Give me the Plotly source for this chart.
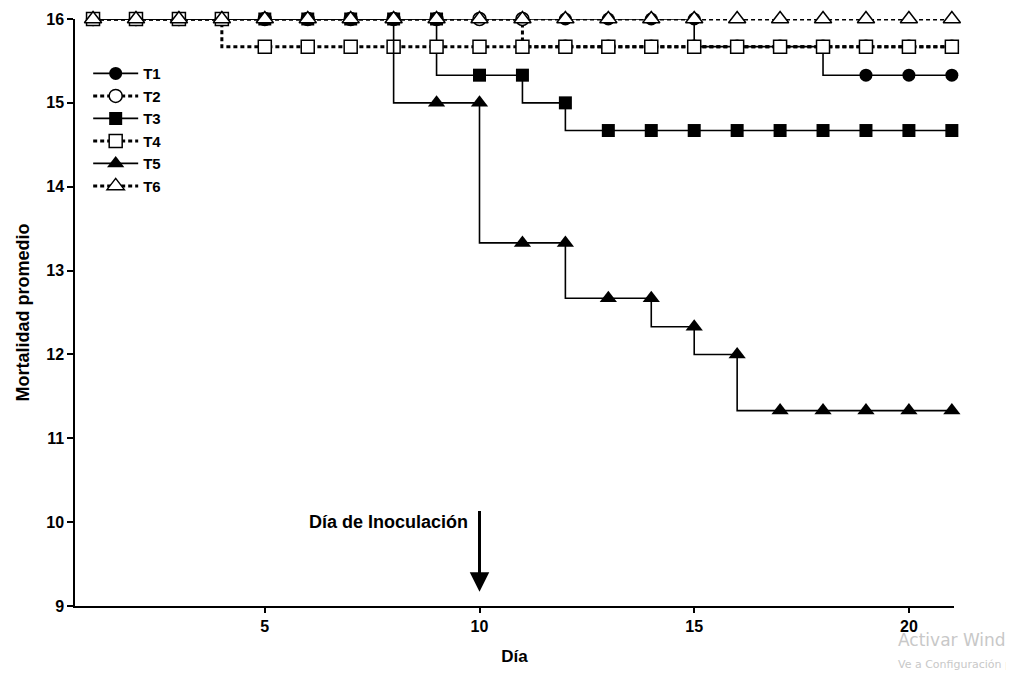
import plotly.graph_objects as go

days = list(range(1, 22))
T1 = [16]*15 + [15.67]*3 + [15.33]*3
T2 = [16]*11 + [15.67]*10
T3 = [16]*9 + [15.33]*2 + [15.0] + [14.67]*9
T4 = [16]*4 + [15.67]*17
T5 = [16]*8 + [15.0]*2 + [13.33]*2 + [12.67]*2 + [12.33] + [12.0] + [11.33]*5
T6 = [16]*21

x_ticks = [5, 10, 15, 20]
y_ticks = [9, 10, 11, 12, 13, 14, 15, 16]

FONT = "Liberation Sans, Arial, sans-serif"

series = [
    ("T1", T1, "circle", "black", "solid"),
    ("T2", T2, "circle-open", "white", "dot"),
    ("T3", T3, "square", "black", "solid"),
    ("T4", T4, "square-open", "white", "dot"),
    ("T5", T5, "triangle-up", "black", "solid"),
    ("T6", T6, "triangle-up-open", "white", "dot"),
]

fig = go.Figure()
for name, vals, sym, fill, style in series:
    dotted = style == "dot"
    base = sym.replace("-open", "")
    fig.add_trace(go.Scatter(
        x=days, y=vals, name=f"<b>{name}</b>", mode="lines+markers",
        line=dict(color="black", width=3 if dotted else 1.6,
                  dash="4px,3px" if dotted else "solid", shape="vh"),
        marker=dict(symbol=base, size=15 if "triangle" in sym else 13,
                    color=fill, line=dict(color="black", width=1.5 if dotted else 0)),
        cliponaxis=False,
    ))

fig.add_annotation(x=10, y=9.17, ax=10, ay=10.15, xref="x", yref="y",
                   axref="x", ayref="y", text="", showarrow=True,
                   arrowhead=2, arrowsize=1.3, arrowwidth=3, arrowcolor="black")
fig.add_annotation(x=9.78, y=10.0, xref="x", yref="y", text="<b>Día de Inoculación</b>",
                   showarrow=False, xanchor="right", yanchor="middle",
                   font=dict(family=FONT, size=18, color="black"))

fig.add_annotation(x=0.934, y=-0.058, xref="paper", yref="paper", text="Activar Windows",
                   showarrow=False, xanchor="left", yanchor="middle",
                   font=dict(family="DejaVu Sans, sans-serif", size=17, color="#c8c8c8"))
fig.add_annotation(x=0.934, y=-0.1, xref="paper", yref="paper",
                   text="Ve a Configuración para activar Windows.",
                   showarrow=False, xanchor="left", yanchor="middle",
                   font=dict(family="DejaVu Sans, sans-serif", size=11, color="#c8c8c8"))

fig.update_layout(
    width=1014, height=674,
    paper_bgcolor="white", plot_bgcolor="white",
    margin=dict(l=67, r=68, t=11, b=76, autoexpand=False),
    font=dict(family=FONT, color="black", size=15),
    showlegend=True,
    legend=dict(x=0.015, y=0.935, xanchor="left", yanchor="top",
                bgcolor="rgba(255,255,255,0)", font=dict(family=FONT, size=15, color="black"),
                tracegroupgap=0, itemsizing="trace", itemwidth=45),
)
fig.update_xaxes(range=[0.58, 21.05], tickvals=x_ticks, automargin=False,
                 ticktext=[f"<b>{v}</b>" for v in x_ticks],
                 showgrid=False, zeroline=False, showline=True, linecolor="black",
                 linewidth=1.5, ticks="outside", ticklen=5, tickwidth=1.5, tickcolor="black",
                 tickfont=dict(family=FONT, size=16),
                 title=dict(text="<b>Día</b>", font=dict(family=FONT, size=17), standoff=16))
fig.update_yaxes(range=[9, 16], tickvals=y_ticks, automargin=False,
                 ticktext=[f"<b>{v}</b>" for v in y_ticks],
                 showgrid=False, zeroline=False, showline=True, linecolor="black",
                 linewidth=1.5, ticks="outside", ticklen=6, tickwidth=1.5, tickcolor="black",
                 tickfont=dict(family=FONT, size=16),
                 title=dict(text="<b>Mortalidad promedio</b>", font=dict(family=FONT, size=18), standoff=12))

fig.write_html("out.html")
